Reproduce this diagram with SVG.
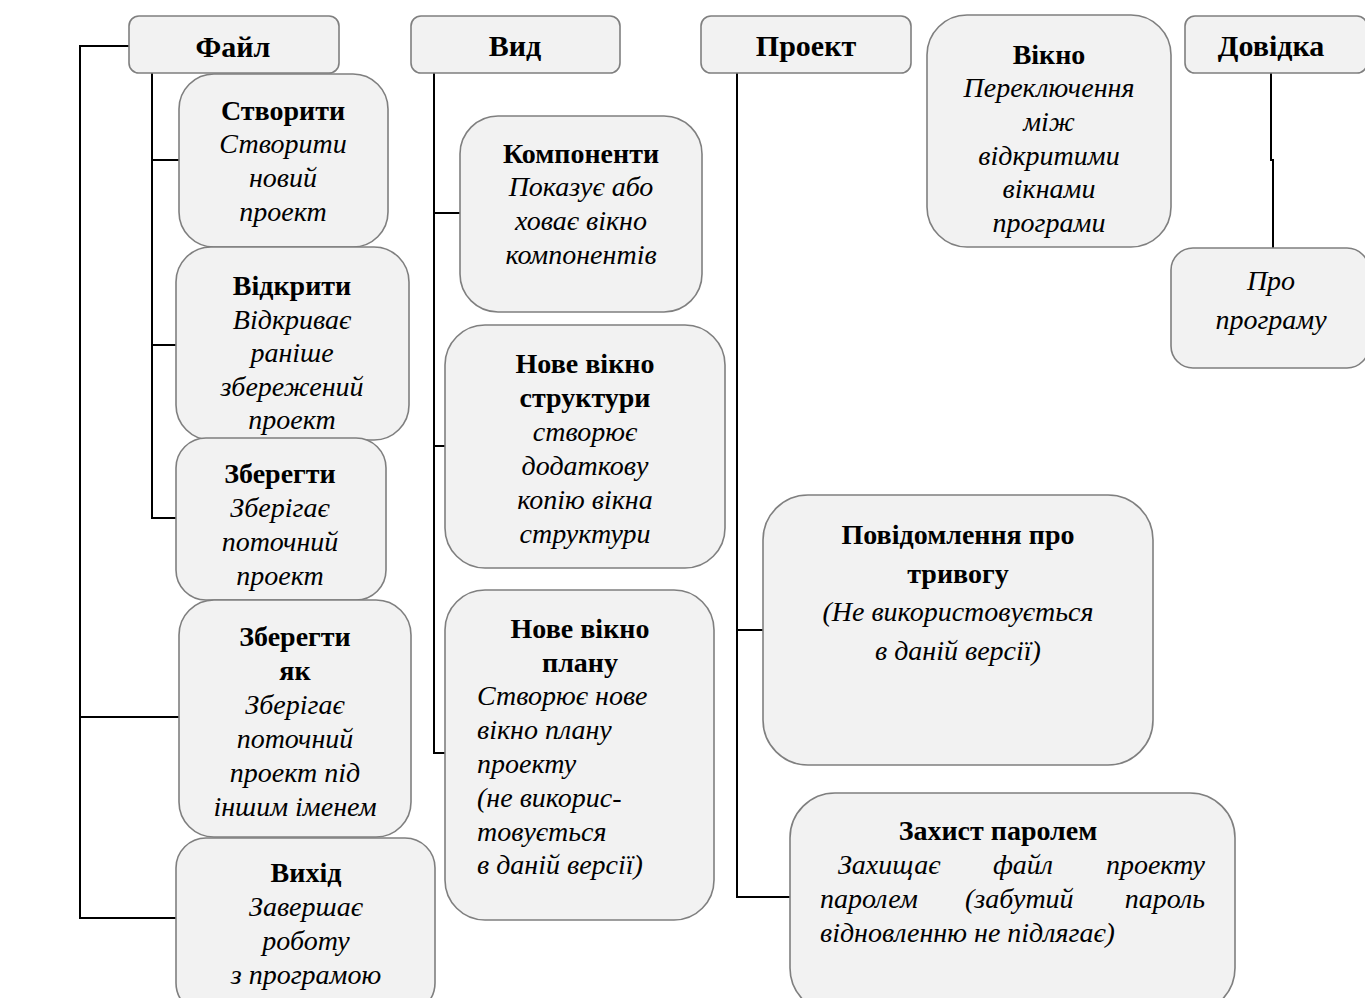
<svg xmlns="http://www.w3.org/2000/svg" width="1365" height="998" viewBox="0 0 1365 998">
<style>
.box{fill:#f2f2f2;stroke:#7f7f7f;stroke-width:1.6}
.t{font-family:'Liberation Serif','Times New Roman',serif;font-size:28px;fill:#000;text-anchor:middle}
.h{font-size:30px}
.b{font-weight:bold}
.i{font-style:italic}
.l{text-anchor:start}
.e{text-anchor:end}
.c{fill:none;stroke:#000;stroke-width:2}
</style>
<rect width="1365" height="998" fill="#fff"/>
<g id="connectors">
<path class="c" d="M129,46 H80 V918 H176 M80,717 H179"/>
<path class="c" d="M152,73 V518 H176 M152,160 H179 M152,345 H176"/>
<path class="c" d="M434,73 V753 H445 M434,213 H460 M434,446 H445"/>
<path class="c" d="M737,73 V897 H790 M737,630 H763"/>
<path class="c" d="M1271,73 V160 H1273 V248"/>
</g>
<g id="file"><rect class="box" x="129" y="16" width="210" height="57" rx="10"/><text class="t b h" x="233" y="57">Файл</text></g>
<g id="view"><rect class="box" x="411" y="16" width="209" height="57" rx="10"/><text class="t b h" x="515" y="56">Вид</text></g>
<g id="project"><rect class="box" x="701" y="16" width="210" height="57" rx="10"/><text class="t b h" x="806" y="56">Проект</text></g>
<g id="window"><rect class="box" x="927" y="15" width="244" height="232" rx="40"/>
<text class="t b" x="1049" y="64">Вікно</text>
<text class="t i" x="1049" y="97">Переключення</text>
<text class="t i" x="1049" y="131">між</text>
<text class="t i" x="1049" y="165">відкритими</text>
<text class="t i" x="1049" y="198">вікнами</text>
<text class="t i" x="1049" y="232">програми</text></g>
<g id="help"><rect class="box" x="1185" y="16" width="182" height="57" rx="10"/><text class="t b h" x="1271" y="56">Довідка</text></g>
<g id="about"><rect class="box" x="1171" y="248" width="198" height="120" rx="22"/>
<text class="t i" x="1271" y="290">Про</text>
<text class="t i" x="1271" y="329">програму</text></g>
<g id="create"><rect class="box" x="179" y="74" width="209" height="173" rx="35"/>
<text class="t b" x="283" y="120">Створити</text>
<text class="t i" x="283" y="153">Створити</text>
<text class="t i" x="283" y="187">новий</text>
<text class="t i" x="283" y="221">проект</text></g>
<g id="open"><rect class="box" x="176" y="247" width="233" height="193" rx="35"/>
<text class="t b" x="292" y="295">Відкрити</text>
<text class="t i" x="292" y="329">Відкриває</text>
<text class="t i" x="292" y="362">раніше</text>
<text class="t i" x="292" y="396">збережений</text>
<text class="t i" x="292" y="429">проект</text></g>
<g id="save"><rect class="box" x="176" y="438" width="210" height="162" rx="30"/>
<text class="t b" x="280" y="483">Зберегти</text>
<text class="t i" x="280" y="517">Зберігає</text>
<text class="t i" x="280" y="551">поточний</text>
<text class="t i" x="280" y="585">проект</text></g>
<g id="saveas"><rect class="box" x="179" y="600" width="232" height="237" rx="35"/>
<text class="t b" x="295" y="646">Зберегти</text>
<text class="t b" x="295" y="680">як</text>
<text class="t i" x="295" y="714">Зберігає</text>
<text class="t i" x="295" y="748">поточний</text>
<text class="t i" x="295" y="782">проект під</text>
<text class="t i" x="295" y="816">іншим іменем</text></g>
<g id="exit"><rect class="box" x="176" y="838" width="259" height="175" rx="30"/>
<text class="t b" x="306" y="882">Вихід</text>
<text class="t i" x="306" y="916">Завершає</text>
<text class="t i" x="306" y="950">роботу</text>
<text class="t i" x="306" y="984">з програмою</text></g>
<g id="components"><rect class="box" x="460" y="116" width="242" height="196" rx="38"/>
<text class="t b" x="581" y="163">Компоненти</text>
<text class="t i" x="581" y="196">Показує або</text>
<text class="t i" x="581" y="230">ховає вікно</text>
<text class="t i" x="581" y="264">компонентів</text></g>
<g id="newstruct"><rect class="box" x="445" y="325" width="280" height="243" rx="40"/>
<text class="t b" x="585" y="373">Нове вікно</text>
<text class="t b" x="585" y="407">структури</text>
<text class="t i" x="585" y="441">створює</text>
<text class="t i" x="585" y="475">додаткову</text>
<text class="t i" x="585" y="509">копію вікна</text>
<text class="t i" x="585" y="543">структури</text></g>
<g id="newplan"><rect class="box" x="445" y="590" width="269" height="330" rx="40"/>
<text class="t b" x="580" y="638">Нове вікно</text>
<text class="t b" x="580" y="672">плану</text>
<text class="t i l" x="477" y="705">Створює нове</text>
<text class="t i l" x="477" y="739">вікно плану</text>
<text class="t i l" x="477" y="773">проекту</text>
<text class="t i l" x="477" y="807">(не викорис-</text>
<text class="t i l" x="477" y="841">товується</text>
<text class="t i l" x="477" y="874">в даній версії)</text></g>
<g id="alarm"><rect class="box" x="763" y="495" width="390" height="270" rx="45"/>
<text class="t b" x="958" y="544">Повідомлення про</text>
<text class="t b" x="958" y="583">тривогу</text>
<text class="t i" x="958" y="621">(Не використовується</text>
<text class="t i" x="958" y="660">в даній версії)</text></g>
<g id="password"><rect class="box" x="790" y="793" width="445" height="220" rx="45"/>
<text class="t b" x="998" y="840">Захист паролем</text>
<text class="t i l" x="838" y="874">Захищає</text>
<text class="t i" x="1023" y="874">файл</text>
<text class="t i e" x="1205" y="874">проекту</text>
<text class="t i l" x="820" y="908">паролем</text>
<text class="t i l" x="965" y="908">(забутий</text>
<text class="t i e" x="1205" y="908">пароль</text>
<text class="t i l" x="820" y="942">відновленню не підлягає)</text></g>
</svg>
